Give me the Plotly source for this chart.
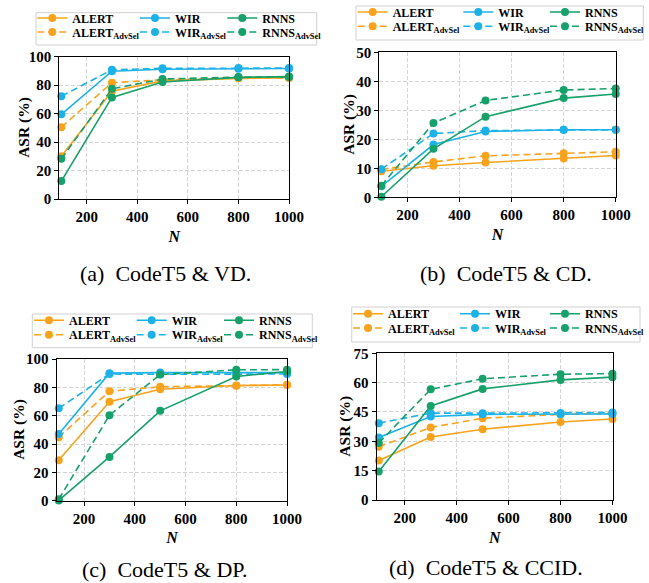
import plotly.graph_objects as go

W, H = 649, 583

N_VALUES = [100, 300, 500, 800, 1000]
X_TICKS = [200, 400, 600, 800, 1000]

# (a) CodeT5 & VD
VD_ALERT = [30.0, 75.8, 83.0, 84.8, 85.2]
VD_ALERT_ADV = [50.5, 81.7, 83.8, 85.0, 85.0]
VD_WIR = [59.5, 89.8, 91.2, 91.5, 91.7]
VD_WIR_ADV = [72.2, 90.8, 91.8, 92.0, 92.0]
VD_RNNS = [12.6, 71.4, 82.2, 85.5, 86.0]
VD_RNNS_ADV = [28.2, 77.4, 84.3, 85.7, 85.8]

# (b) CodeT5 & CD
CD_ALERT = [9.0, 10.9, 12.0, 13.4, 14.4]
CD_ALERT_ADV = [9.6, 12.2, 14.3, 15.2, 15.7]
CD_WIR = [3.8, 18.2, 22.7, 23.3, 23.3]
CD_WIR_ADV = [9.7, 22.0, 23.0, 23.3, 23.3]
CD_RNNS = [0.2, 16.7, 27.8, 34.2, 35.6]
CD_RNNS_ADV = [4.0, 25.6, 33.4, 37.0, 37.5]

# (c) CodeT5 & DP
DP_ALERT = [28.5, 69.8, 78.7, 81.3, 81.6]
DP_ALERT_ADV = [44.8, 77.3, 80.4, 81.2, 81.8]
DP_WIR = [47.0, 90.0, 90.4, 90.4, 90.4]
DP_WIR_ADV = [65.2, 89.4, 89.2, 89.2, 89.4]
DP_RNNS = [0.2, 30.9, 63.4, 87.7, 91.2]
DP_RNNS_ADV = [1.0, 60.3, 89.0, 92.4, 92.5]

# (d) CodeT5 & CCID
CCID_ALERT = [20.2, 32.2, 36.2, 39.9, 41.4]
CCID_ALERT_ADV = [27.2, 37.1, 41.8, 43.8, 44.3]
CCID_WIR = [32.0, 42.7, 43.8, 43.8, 44.0]
CCID_WIR_ADV = [39.3, 44.4, 44.4, 44.5, 44.7]
CCID_RNNS = [14.6, 48.1, 56.8, 61.4, 62.8]
CCID_RNNS_ADV = [29.2, 56.6, 62.0, 64.3, 64.6]

CAPTIONS = ["(a)  CodeT5 &amp; VD.", "(b)  CodeT5 &amp; CD.",
            "(c)  CodeT5 &amp; DP.", "(d)  CodeT5 &amp; CCID."]
Y_TITLE = "ASR (%)"
X_TITLE = "<i>N</i>"
Y_RANGES = [[0, 100], [0, 50], [0, 100], [0, 75]]
Y_DTICKS = [20, 10, 20, 15]

PANEL_SERIES = [
    [VD_ALERT, VD_ALERT_ADV, VD_WIR, VD_WIR_ADV, VD_RNNS, VD_RNNS_ADV],
    [CD_ALERT, CD_ALERT_ADV, CD_WIR, CD_WIR_ADV, CD_RNNS, CD_RNNS_ADV],
    [DP_ALERT, DP_ALERT_ADV, DP_WIR, DP_WIR_ADV, DP_RNNS, DP_RNNS_ADV],
    [CCID_ALERT, CCID_ALERT_ADV, CCID_WIR, CCID_WIR_ADV, CCID_RNNS, CCID_RNNS_ADV],
]
SERIES_NAMES = ["ALERT", "ALERT<sub>AdvSel</sub>", "WIR", "WIR<sub>AdvSel</sub>",
                "RNNS", "RNNS<sub>AdvSel</sub>"]
COLORS = ["#F8A31B", "#F8A31B", "#1CB2E8", "#1CB2E8", "#16A06A", "#16A06A"]
DASHES = ["solid", "7px,4px", "solid", "7px,4px", "solid", "7px,4px"]

# layout geometry (window pixels)
PLOT_BOX = [  # left, right, top, bottom
    (59.3, 289.3, 56.7, 199.0),
    (379.3, 616.0, 52.3, 197.3),
    (56.7, 287.3, 359.0, 500.7),
    (376.7, 612.7, 353.3, 500.0),
]
LEG_COLS = [(37.3, 140.0, 227.3), (357.7, 463.3, 550.0),
            (34.0, 136.7, 224.0), (353.0, 460.0, 550.0)]
LEG_ROWS = [(18.0, 32.0), (12.0, 26.3), (320.3, 334.7), (313.7, 328.0)]
LEG_BOX = [(36, 316.7, 12.7, 45), (356, 643.3, 6, 40),
           (32.3, 312.3, 314, 347.7), (351.7, 640, 307, 342)]
CAP_POS = [(165, 273), (506, 273), (165, 569), (486, 567)]
YTITLE_X = [24, 349, 19, 345]

SERIF = "Liberation Serif"


def px(x):
    return x / W


def py(y):
    return 1 - y / H


fig = go.Figure()
layout = dict(
    width=W, height=H,
    margin=dict(l=0, r=0, t=0, b=0, autoexpand=False),
    paper_bgcolor="white", plot_bgcolor="white",
    showlegend=True,
    shapes=[], annotations=[],
)

leg_idx = 0
for p in range(4):
    xa = "x" if p == 0 else f"x{p+1}"
    ya = "y" if p == 0 else f"y{p+1}"
    for s in range(6):
        leg_idx += 1
        lname = "legend" if leg_idx == 1 else f"legend{leg_idx}"
        fig.add_trace(go.Scatter(
            x=N_VALUES, y=PANEL_SERIES[p][s], name=SERIES_NAMES[s],
            mode="lines+markers", xaxis=xa, yaxis=ya,
            line=dict(color=COLORS[s], width=1.6, dash=DASHES[s]),
            marker=dict(color=COLORS[s], size=8),
            cliponaxis=False, legend=lname,
        ))
        col = s // 2
        row = s % 2
        layout[lname] = dict(
            x=px(LEG_COLS[p][col] - 5), y=py(LEG_ROWS[p][row]),
            xanchor="left", yanchor="middle",
            bgcolor="rgba(0,0,0,0)", borderwidth=0,
            font=dict(family=SERIF, size=12, color="black", weight="bold"),
            itemwidth=30,
        )
    l, r, t, b = PLOT_BOX[p]
    axkey = "xaxis" if p == 0 else f"xaxis{p+1}"
    aykey = "yaxis" if p == 0 else f"yaxis{p+1}"
    layout[axkey] = dict(
        domain=[px(l), px(r)], anchor=ya, range=[92, 1001],
        tickvals=X_TICKS, ticks="outside", ticklen=4, tickwidth=1, tickcolor="black",
        showline=True, linecolor="black", linewidth=1.2, mirror=True,
        showgrid=True, gridcolor="#d4d4d4", gridwidth=0.8, griddash="4px,2px",
        zeroline=False, automargin=False,
        tickfont=dict(family=SERIF, size=15, color="black", weight="bold"),
        title=dict(text=X_TITLE, standoff=6,
                   font=dict(family=SERIF, size=16, color="black", weight="bold")),
    )
    layout[aykey] = dict(
        domain=[py(b), py(t)], anchor=xa, range=Y_RANGES[p],
        dtick=Y_DTICKS[p], tick0=0, ticks="outside", ticklen=4, tickwidth=1, tickcolor="black",
        showline=True, linecolor="black", linewidth=1.2, mirror=True,
        showgrid=True, gridcolor="#d4d4d4", gridwidth=0.8, griddash="4px,2px",
        zeroline=False, automargin=False,
        tickfont=dict(family=SERIF, size=15, color="black", weight="bold"),
    )
    layout["annotations"].append(dict(
        text=Y_TITLE, xref="paper", yref="paper",
        x=px(YTITLE_X[p]), y=py((t + b) / 2), textangle=-90,
        xanchor="center", yanchor="middle", showarrow=False,
        font=dict(family=SERIF, size=15.5, color="black", weight="bold"),
    ))
    bl, br, bt, bb = LEG_BOX[p]
    layout["shapes"].append(dict(
        type="rect", xref="paper", yref="paper",
        x0=px(bl), x1=px(br), y0=py(bb), y1=py(bt),
        line=dict(color="#d0d0d0", width=1), fillcolor="white", layer="below",
    ))
    cx, cy = CAP_POS[p]
    layout["annotations"].append(dict(
        text=CAPTIONS[p], xref="paper", yref="paper", x=px(cx), y=py(cy),
        xanchor="center", yanchor="middle", showarrow=False,
        font=dict(family=SERIF, size=22, color="black"),
    ))

fig.update_layout(**layout)
# remove the browser's default 8px page margin so the figure fills the window
fig.write_html("out.html", config={"displayModeBar": False},
               post_script="document.body.style.margin='0px';")
